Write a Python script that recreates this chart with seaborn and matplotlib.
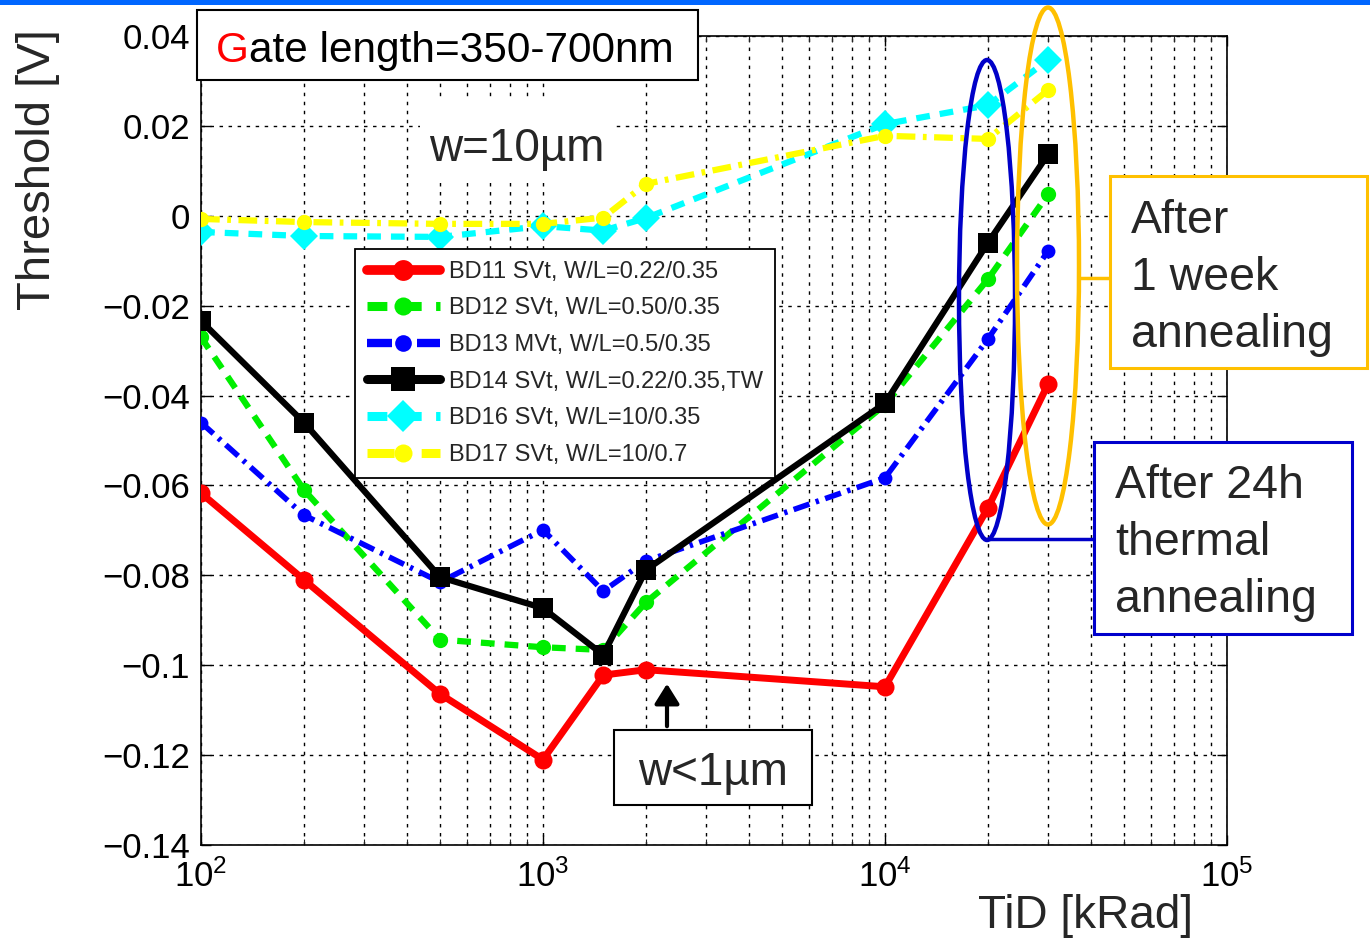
import numpy as np
import pandas as pd
import matplotlib
matplotlib.use("Agg")
import matplotlib.pyplot as plt
import seaborn as sns
from matplotlib.patches import Rectangle, Ellipse, FancyArrowPatch
from matplotlib.lines import Line2D
from matplotlib.ticker import FixedLocator, FixedFormatter, LogLocator, NullFormatter

# ---------------- data ----------------
tid_krad = [100, 200, 500, 1000, 1500, 2000, 10000, 20000, 30000]
bd11 = [-0.0617, -0.0810, -0.1064, -0.1210, -0.1022, -0.1010, -0.1048, -0.0650, -0.0374]
bd12 = [-0.0270, -0.0610, -0.0943, -0.0960, -0.0966, -0.0860, -0.0420, -0.0141, 0.0048]
bd13 = [-0.0460, -0.0666, -0.0815, -0.0699, -0.0835, -0.0768, -0.0583, -0.0274, -0.0078]
bd14 = [-0.0234, -0.0460, -0.0804, -0.0873, -0.0977, -0.0788, -0.0417, -0.0060, 0.0137]
bd16 = [-0.0036, -0.0045, -0.0047, -0.0023, -0.0033, -0.0005, 0.0204, 0.0246, 0.0347]
bd17 = [-0.0007, -0.0014, -0.0018, -0.0018, -0.0004, 0.0071, 0.0178, 0.0171, 0.0280]
series_labels = ["BD11 SVt, W/L=0.22/0.35", "BD12 SVt, W/L=0.50/0.35",
                 "BD13 MVt, W/L=0.5/0.35", "BD14 SVt, W/L=0.22/0.35,TW",
                 "BD16 SVt, W/L=10/0.35", "BD17 SVt, W/L=10/0.7"]
y_ticks = [-0.14, -0.12, -0.10, -0.08, -0.06, -0.04, -0.02, 0.0, 0.02, 0.04]
y_tick_labels = ["\u22120.14", "\u22120.12", "\u22120.1", "\u22120.08", "\u22120.06",
                 "\u22120.04", "\u22120.02", "0", "0.02", "0.04"]

# ---------------- style ----------------
sns.set_style("ticks")
plt.rcParams['font.family'] = ['Liberation Sans', 'DejaVu Sans']
plt.rcParams['mathtext.fontset'] = 'custom'
plt.rcParams['mathtext.rm'] = 'Liberation Sans'
plt.rcParams['mathtext.it'] = 'Liberation Sans'

W, H = 1370, 940
def fx(px):
    return px / W
def fy(py):
    return 1 - py / H

fig = plt.figure(figsize=(W / 100, H / 100), dpi=100)
ax = fig.add_axes([fx(201), fy(845), fx(1227) - fx(201), fy(36) - fy(845)])

df = pd.DataFrame({"TiD": tid_krad * 6,
                   "V": bd11 + bd12 + bd13 + bd14 + bd16 + bd17,
                   "series": np.repeat(series_labels, len(tid_krad))})

styles = {
    series_labels[0]: dict(color="#FF0000", linestyle="-", marker="o", markersize=13, linewidth=5.0),
    series_labels[1]: dict(color="#00EE00", linestyle=(0, (2.2, 1.6)), marker="o", markersize=11, linewidth=4.5),
    series_labels[2]: dict(color="#0000FF", linestyle=(0, (3.0, 1.2, 0.6, 1.2)), marker="o", markersize=10, linewidth=4.0),
    series_labels[3]: dict(color="#000000", linestyle="-", marker="s", markersize=15, linewidth=4.5),
    series_labels[4]: dict(color="#00FFFF", linestyle=(0, (2.2, 1.6)), marker="D", markersize=14, linewidth=4.5),
    series_labels[5]: dict(color="#FFFF00", linestyle=(0, (3.0, 1.2, 0.6, 1.2)), marker="o", markersize=11, linewidth=4.5),
}

handles = []
for lab in series_labels:
    st = styles[lab]
    sub = df[df["series"] == lab]
    sns.lineplot(data=sub, x="TiD", y="V", ax=ax, estimator=None, sort=False,
                 color=st["color"], linestyle=st["linestyle"], marker=st["marker"],
                 markersize=st["markersize"], linewidth=st["linewidth"],
                 markeredgecolor=st["color"], markeredgewidth=0, zorder=3)
    handles.append(Line2D([], [], color=st["color"], linestyle=st["linestyle"],
                          marker=st["marker"], markersize=st["markersize"] + 2,
                          linewidth=st["linewidth"] + 2.0, markeredgewidth=0))

ax.set_xscale("log")
ax.set_xlim(100, 1e5)
ax.set_ylim(-0.14, 0.04)
ax.yaxis.set_major_locator(FixedLocator(y_ticks))
ax.yaxis.set_major_formatter(FixedFormatter(y_tick_labels))
ax.xaxis.set_major_locator(LogLocator(base=10, numticks=10))
ax.xaxis.set_minor_locator(LogLocator(base=10, subs=np.arange(2, 10), numticks=20))
ax.xaxis.set_minor_formatter(NullFormatter())
ax.set_xlabel("")
ax.set_ylabel("")

ax.tick_params(axis="both", which="major", direction="in", length=7, width=1.0,
               labelsize=25, top=True, right=True, colors="black")
ax.tick_params(axis="y", which="major", pad=8)
ax.tick_params(axis="x", which="major", pad=10)
ax.tick_params(axis="x", which="minor", direction="in", length=4, width=0.8, top=True)

ax.grid(True, which="major", axis="both", color="black", linestyle=(0, (2.5, 4)), linewidth=1.0)
ax.grid(True, which="minor", axis="x", color="black", linestyle=(0, (2.5, 4)), linewidth=1.0)
ax.set_axisbelow(True)
for sp in ax.spines.values():
    sp.set_color("black")
    sp.set_linewidth(1.2)

leg = ax.legend(handles, series_labels, loc="upper left",
                bbox_to_anchor=(fx(355), fy(249)), bbox_transform=fig.transFigure,
                borderaxespad=0, fontsize=17, handlelength=3.1, handletextpad=0.4,
                labelspacing=0.62, borderpad=0.5, numpoints=1, fancybox=False,
                frameon=True, framealpha=1, edgecolor="black")
leg.get_frame().set_linewidth(1.3)
leg.set_zorder(5)

# ---------------- decorations ----------------
# top blue band
fig.add_artist(Rectangle((0, fy(5)), 1, fy(0) - fy(5), transform=fig.transFigure,
                         facecolor="#0066FF", edgecolor="none", zorder=10))

# Gate length box
fig.add_artist(Rectangle((fx(197), fy(80)), fx(698) - fx(197), fy(10) - fy(80),
                         transform=fig.transFigure, facecolor="white",
                         edgecolor="black", linewidth=1.5, zorder=10))
g_txt = fig.text(fx(216), fy(62), "G", fontsize=30.5, color="#FF0000",
                 ha="left", va="baseline", zorder=12)
fig.canvas.draw()
g_ext = g_txt.get_window_extent(renderer=fig.canvas.get_renderer())
fig.text(g_ext.x1 / W, fy(62), "ate length=350-700nm", fontsize=30.5, color="black",
         ha="left", va="baseline", zorder=11)

# w=10um with white background patch (gridlines interrupted)
fig.add_artist(Rectangle((fx(420), fy(182)), fx(615) - fx(420), fy(100) - fy(182),
                         transform=fig.transFigure, facecolor="white",
                         edgecolor="none", zorder=2))
fig.text(fx(517), fy(161), "w=10\u00b5m", fontsize=33, ha="center", va="baseline", zorder=11)

# w<1um box with arrow
fig.add_artist(Rectangle((fx(614), fy(805)), fx(812) - fx(614), fy(730) - fy(805),
                         transform=fig.transFigure, facecolor="white",
                         edgecolor="black", linewidth=1.5, zorder=10))
fig.text(fx(713), fy(785), "w<1\u00b5m", fontsize=33, ha="center", va="baseline", zorder=11)
fig.add_artist(FancyArrowPatch(
    (fx(667), fy(729)), (fx(667), fy(681)), transform=fig.transFigure,
    arrowstyle="-|>,head_length=8,head_width=5", color="black", linewidth=3,
    mutation_scale=1.5, zorder=11))

# ellipses
blue_c = "#0000C8"
orange_c = "#FFC000"
fig.add_artist(Ellipse((fx(987), fy(300)), fx(1015) - fx(959), fy(60) - fy(540),
                       transform=fig.transFigure, facecolor="none",
                       edgecolor=blue_c, linewidth=3.2, zorder=9))
fig.add_artist(Ellipse((fx(1048), fy(266)), fx(1079) - fx(1017), fy(8) - fy(525),
                       transform=fig.transFigure, facecolor="none",
                       edgecolor=orange_c, linewidth=3.2, zorder=9))

# connectors
fig.add_artist(Line2D([fx(1079), fx(1110)], [fy(278), fy(278)], transform=fig.transFigure,
                      color=orange_c, linewidth=2.5, zorder=9))
fig.add_artist(Line2D([fx(988), fx(1094)], [fy(539), fy(539)], transform=fig.transFigure,
                      color=blue_c, linewidth=2.5, zorder=9))

# annotation boxes
fig.add_artist(Rectangle((fx(1110), fy(368)), fx(1367) - fx(1110), fy(176) - fy(368),
                         transform=fig.transFigure, facecolor="white",
                         edgecolor=orange_c, linewidth=2.2, zorder=10))
for txt, base in zip(["After", "1 week", "annealing"], [233, 290, 347]):
    fig.text(fx(1131), fy(base), txt, fontsize=33.5, ha="left", va="baseline", zorder=11)

fig.add_artist(Rectangle((fx(1094), fy(634)), fx(1352) - fx(1094), fy(442) - fy(634),
                         transform=fig.transFigure, facecolor="white",
                         edgecolor="#0000CC", linewidth=2.2, zorder=10))
for txt, base in zip(["After 24h", "thermal", "annealing"], [498, 555, 612]):
    fig.text(fx(1115), fy(base), txt, fontsize=33.5, ha="left", va="baseline", zorder=11)

# axis labels
fig.text(fx(1085), fy(928), "TiD [kRad]", fontsize=33, ha="center", va="baseline")
fig.text(fx(38), fy(170), "Threshold [V]", fontsize=34, rotation=90, ha="center", va="center")

fig.savefig("out.png", dpi=100)
